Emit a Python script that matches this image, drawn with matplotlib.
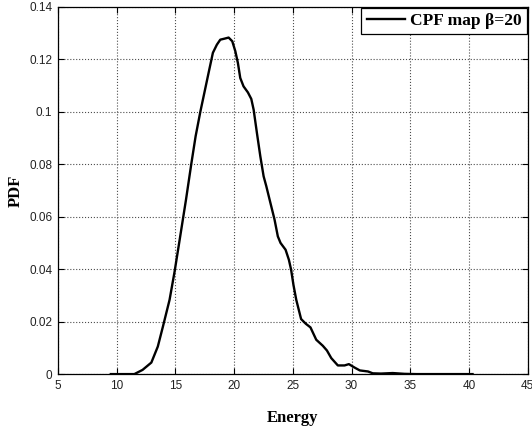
import matplotlib
matplotlib.use('Agg')
import matplotlib.pyplot as plt

# ── data ────────────────────────────────────────────────────────────────────
energy = [9.5, 10.5, 11.5, 12.2, 12.95, 13.5, 13.94, 14.5, 14.93, 15.36, 15.9,
          16.35, 16.72, 17.12, 17.49, 17.85, 18.19, 18.53, 18.82, 19.19, 19.53,
          19.84, 20.1, 20.32, 20.52, 20.8, 21.17, 21.46, 21.66, 21.94, 22.23,
          22.51, 22.74, 23.02, 23.44, 23.72, 23.95, 24.38, 24.66, 24.85, 25.05,
          25.29, 25.7, 26.1, 26.5, 26.99, 27.55, 27.9, 28.27, 28.83, 29.4,
          29.77, 30.25, 30.7, 31.4, 31.8, 32.5, 33.5, 34.5, 35.5, 40.3]
pdf = [0.0, 0.0, 0.0, 0.0016, 0.0044, 0.0105, 0.0182, 0.0283, 0.0391, 0.0512,
       0.0665, 0.0801, 0.0907, 0.1, 0.1078, 0.1154, 0.1225, 0.1256, 0.1275,
       0.1279, 0.1283, 0.1269, 0.1231, 0.1186, 0.1129, 0.1097, 0.1074, 0.1049,
       0.1008, 0.0919, 0.083, 0.0754, 0.0716, 0.0665, 0.0589, 0.0525, 0.05,
       0.0474, 0.0436, 0.0398, 0.034, 0.0283, 0.021, 0.0192, 0.0178, 0.0131,
       0.0108, 0.0090, 0.0061, 0.0033, 0.0033, 0.0038, 0.0025, 0.0014, 0.001,
       0.0003, 0.0002, 0.0004, 0.0001, 0.0, 0.0]
x_ticks = [5, 10, 15, 20, 25, 30, 35, 40, 45]
y_ticks = [0, 0.02, 0.04, 0.06, 0.08, 0.1, 0.12, 0.14]
y_tick_labels = ['0', '0.02', '0.04', '0.06', '0.08', '0.1', '0.12', '0.14']

serif_bold = dict(family='Liberation Serif', weight='bold')

fig = plt.figure(figsize=(5.32, 4.30), dpi=100)
ax = fig.add_axes([0.109, 0.130, 0.883, 0.854])

ax.plot(energy, pdf, color='black', lw=1.7, label='CPF map β=20')

ax.set_xlim(5, 45)
ax.set_ylim(0, 0.14)
ax.set_xticks(x_ticks)
ax.set_yticks(y_ticks)
ax.set_yticklabels(y_tick_labels)
ax.tick_params(direction='in', length=4, width=0.8, labelsize=8.5,
               top=True, right=True, pad=4)
for lbl in ax.get_xticklabels() + ax.get_yticklabels():
    lbl.set_family('Liberation Sans')
    lbl.set_color('#222222')

ax.grid(True, linestyle=':', color='0.3', lw=0.8)
for s in ax.spines.values():
    s.set_linewidth(0.9)

ax.set_xlabel('Energy', fontsize=12, labelpad=13, **serif_bold)
ax.set_ylabel('PDF', fontsize=12, labelpad=4, **serif_bold)

leg = ax.legend(loc='upper right', borderaxespad=0.05, fancybox=False,
                framealpha=1, edgecolor='black', handlelength=2.2,
                borderpad=0.3, handletextpad=0.3,
                prop=dict(family='Liberation Serif', weight='bold', size=12.5))
leg.get_frame().set_linewidth(0.9)

fig.savefig('out.png', dpi=100)
